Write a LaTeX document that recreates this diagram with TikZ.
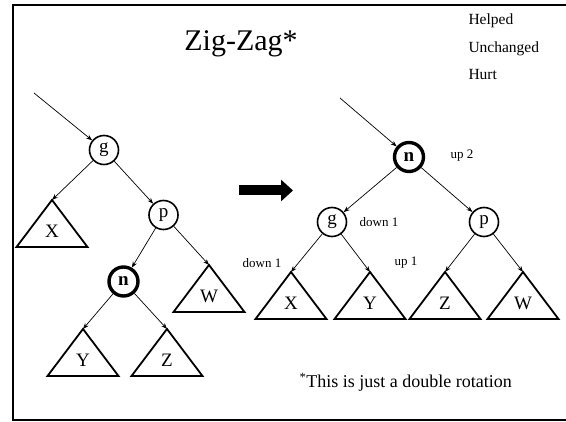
\documentclass[tikz,border=0pt]{standalone}
\usepackage{fontspec}
\setmainfont{Liberation Serif}
\usepackage{tikz}
\usetikzlibrary{arrows.meta, positioning}

\begin{document}
\begin{tikzpicture}[x=1pt, y=-1pt]
    \tikzset{
        tree node/.style={
                circle, draw=black, line width=1.6pt, minimum size=29pt, inner sep=0pt,
                font=\fontsize{19}{20}\selectfont
            },
        moved node/.style={
                tree node, line width=3.4pt, font=\fontsize{19}{20}\selectfont\bfseries
            },
        edge/.style={
                -{Stealth[length=6pt, width=4.5pt]}, line width=0.7pt
            },
        gain label/.style={
                font=\fontsize{13}{15}\selectfont
            },
        legend label/.style={
                font=\fontsize{15.5}{18}\selectfont, anchor=base west
            },
        subtree/.pic={
                \draw[line width=1.8pt, line join=miter] (-35.5,47) -- (0,0) -- (35.5,47) -- cycle;
                \coordinate (-top) at (0,0);
                \node[font=\fontsize{19}{20}\selectfont] (-name) at (0,31) {#1};
            }
    }

    \useasboundingbox (0,0) rectangle (566,422);

    % slide frame, open on the right
    \draw[line width=2.5pt] (570,5) -- (13,5) -- (13,420) -- (570,420);

    \node[font=\fontsize{30}{33}\selectfont, anchor=base] (title) at (241,51) {Zig-Zag*};
    \node[legend label] (helped) at (465,25) {Helped};
    \node[legend label] (unchanged) at (465,52.5) {Unchanged};
    \node[legend label] (hurt) at (465,80) {Hurt};

    % before: n is the left child of p, p the right child of g
    \coordinate (in left) at (34,93);
    \node[tree node] (lg) at (104,150) {g};
    \node[tree node] (lp) at (163.5,215) {p};
    \node[moved node] (ln) at (123.5,281.5) {n};
    \pic (lx) at (52,200) {subtree=X};
    \pic (lw) at (209,265) {subtree=W};
    \pic (ly) at (83,329) {subtree=Y};
    \pic (lz) at (167,329) {subtree=Z};

    \draw[edge] (in left) -- (lg);
    \draw[edge] (lg) -- (lx-top);
    \draw[edge] (lg) -- (lp);
    \draw[edge] (lp) -- (ln);
    \draw[edge] (lp) -- (lw-top);
    \draw[edge] (ln) -- (ly-top);
    \draw[edge] (ln) -- (lz-top);

    % Rotation Arrow
    \coordinate (rot start) at (239,190.5);
    \coordinate (rot end) at (293,190.5);
    \draw[line width=10pt, -{Triangle[length=12pt, width=21pt]}] (rot start) -- (rot end);

    % after: n moved to the top
    \coordinate (in right) at (340,98);
    \node[moved node] (rn) at (409,157) {n};
    \node[tree node] (rg) at (332,222) {g};
    \node[tree node] (rp) at (484,222) {p};
    \pic (rx) at (291,272) {subtree=X};
    \pic (ry) at (370,272) {subtree=Y};
    \pic (rz) at (445,272) {subtree=Z};
    \pic (rw) at (523,272) {subtree=W};

    \draw[edge] (in right) -- (rn);
    \draw[edge] (rn) -- (rg);
    \draw[edge] (rn) -- (rp);
    \draw[edge] (rg) -- (rx-top);
    \draw[edge] (rg) -- (ry-top);
    \draw[edge] (rp) -- (rz-top);
    \draw[edge] (rp) -- (rw-top);

    \node[gain label] (n gain) at (462,156) {up 2};
    \node[gain label] (g gain) at (379,222) {down 1};
    \node[gain label] (x gain) at (262,263) {down 1};
    \node[gain label] (y gain) at (406,263) {up 1};

    \node[font=\fontsize{18}{20}\selectfont, anchor=base west] (note) at (296,388) {\textsuperscript{*}This is just a double rotation};
\end{tikzpicture}
\end{document}
